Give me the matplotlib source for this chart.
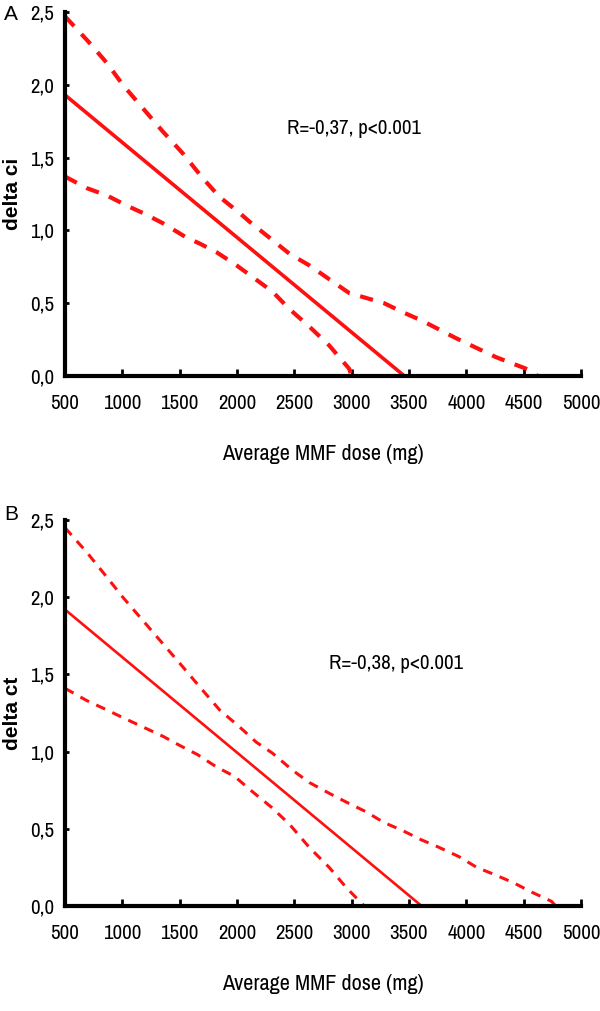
import matplotlib
matplotlib.use("Agg")
import matplotlib.pyplot as plt
from matplotlib import font_manager

# panel A: delta ci vs dose
a_fit_dose = [500, 3460]
a_fit = [1.93, 0.0]
a_upper_dose = [500, 700, 865, 1004, 1178, 1352, 1526, 1700, 1848, 2022, 2109, 2457,
                2630, 2978, 3283, 3440, 3613, 3909, 4257, 4587, 4620]
a_upper = [2.47, 2.30, 2.15, 2.00, 1.84, 1.68, 1.53, 1.36, 1.23, 1.12, 1.06, 0.84,
           0.76, 0.57, 0.50, 0.44, 0.38, 0.26, 0.13, 0.03, 0.0]
a_lower_dose = [500, 691, 865, 1039, 1178, 1352, 1561, 1674, 1822, 1996, 2170, 2309,
                2457, 2630, 2804, 2978, 3000]
a_lower = [1.37, 1.29, 1.24, 1.17, 1.12, 1.05, 0.95, 0.91, 0.85, 0.76, 0.66, 0.58,
           0.46, 0.34, 0.21, 0.05, 0.0]

# panel B: delta ct vs dose
b_fit_dose = [500, 3610]
b_fit = [1.92, 0.0]
b_upper_dose = [500, 691, 865, 1004, 1178, 1352, 1526, 1674, 1848, 2022, 2170, 2309,
                2483, 2630, 2804, 2961, 3126, 3283, 3440, 3604, 3761, 3935, 4091, 4257,
                4413, 4570, 4743, 4780]
b_upper = [2.45, 2.29, 2.13, 2.00, 1.85, 1.70, 1.55, 1.42, 1.27, 1.16, 1.06, 0.99,
           0.88, 0.80, 0.73, 0.67, 0.61, 0.54, 0.49, 0.43, 0.38, 0.32, 0.25, 0.20,
           0.15, 0.09, 0.03, 0.0]
b_lower_dose = [500, 691, 865, 1004, 1178, 1352, 1500, 1657, 1822, 1978, 2135, 2300,
                2457, 2630, 2804, 2952, 3083, 3110]
b_lower = [1.41, 1.33, 1.27, 1.22, 1.16, 1.10, 1.04, 0.98, 0.90, 0.84, 0.74, 0.64,
           0.53, 0.38, 0.25, 0.12, 0.02, 0.0]

x_ticks = [500, 1000, 1500, 2000, 2500, 3000, 3500, 4000, 4500, 5000]
y_ticks = [0.0, 0.5, 1.0, 1.5, 2.0, 2.5]
y_tick_labels = ["0,0", "0,5", "1,0", "1,5", "2,0", "2,5"]


# look for some narrow upright face; the original uses a squeezed Arial
def find_narrow():
    cands = []
    for f in font_manager.fontManager.ttflist:
        nm = f.name.lower()
        st = str(f.stretch).lower()
        if not ("narrow" in nm or "condensed" in nm or "condensed" in st):
            continue
        if f.style != "normal":
            continue
        w = f.weight if isinstance(f.weight, int) else {"normal": 400, "regular": 400,
                                                        "book": 400}.get(str(f.weight), 700)
        cands.append((abs(w - 400), "narrow" not in nm, f.fname))
    if not cands:
        return None
    cands.sort()
    return font_manager.FontProperties(fname=cands[0][2])


nfp = find_narrow()
if nfp is not None:
    tick_size, ann_size = 15, 15
else:
    nfp = font_manager.FontProperties(family=["Liberation Sans", "DejaVu Sans"])
    tick_size, ann_size = 12, 12

plain = ["Liberation Sans", "DejaVu Sans"]
red = "#ff1010"

fig = plt.figure(figsize=(6, 10.11), dpi=100)
H = 1011.0
axA = fig.add_axes([65 / 600, 1 - 376 / H, 516 / 600, 364 / H])
axB = fig.add_axes([65 / 600, 1 - 906 / H, 516 / 600, 386 / H])

panels = [
    (axA, a_fit_dose, a_fit, a_upper_dose, a_upper, a_lower_dose, a_lower,
     "delta ci", "R=-0,37, p<0.001", (3020, 1.70), 3.0, 2.6),
    (axB, b_fit_dose, b_fit, b_upper_dose, b_upper, b_lower_dose, b_lower,
     "delta ct", "R=-0,38, p<0.001", (3390, 1.57), 2.2, 1.9),
]

for ax, fd, fv, ud, uv, ld, lv, ylab, ann, apos, dlw, flw in panels:
    ax.plot(fd, fv, color=red, lw=flw, solid_capstyle="butt")
    ax.plot(ud, uv, color=red, lw=dlw, linestyle=(0, (3.2, 2.6)))
    ax.plot(ld, lv, color=red, lw=dlw, linestyle=(0, (3.2, 2.6)))
    ax.set_xlim(500, 5000)
    ax.set_ylim(0, 2.5)
    ax.set_xticks(x_ticks)
    ax.set_yticks(y_ticks)
    ax.set_xticklabels([str(t) for t in x_ticks])
    ax.set_yticklabels(y_tick_labels)
    for lab in ax.get_xticklabels() + ax.get_yticklabels():
        lab.set_fontproperties(nfp)
        lab.set_fontsize(tick_size)
    ax.tick_params(axis="x", direction="in", length=5, width=2, pad=13)
    ax.tick_params(axis="y", direction="in", length=3, width=2, pad=8)
    for s in ["top", "right"]:
        ax.spines[s].set_visible(False)
    for s in ["left", "bottom"]:
        ax.spines[s].set_linewidth(3)
        ax.spines[s].set_capstyle("projecting")
    xl = ax.set_xlabel("Average MMF dose (mg)", labelpad=22)
    xl.set_fontproperties(nfp)
    xl.set_fontsize(tick_size + 1)
    ax.set_ylabel(ylab, family=plain, fontsize=15, fontweight="bold")
    ax.yaxis.set_label_coords(-0.083, 0.5)
    t = ax.text(apos[0], apos[1], ann, ha="center", va="center", fontproperties=nfp)
    t.set_fontsize(ann_size)

fig.text(11 / 600, 1 - 14 / H, "A", family=plain, fontsize=15, ha="center", va="center")
fig.text(11 / 600, 1 - 515 / H, "B", family=plain, fontsize=15, ha="center", va="center")

fig.savefig("out.png", dpi=100)
